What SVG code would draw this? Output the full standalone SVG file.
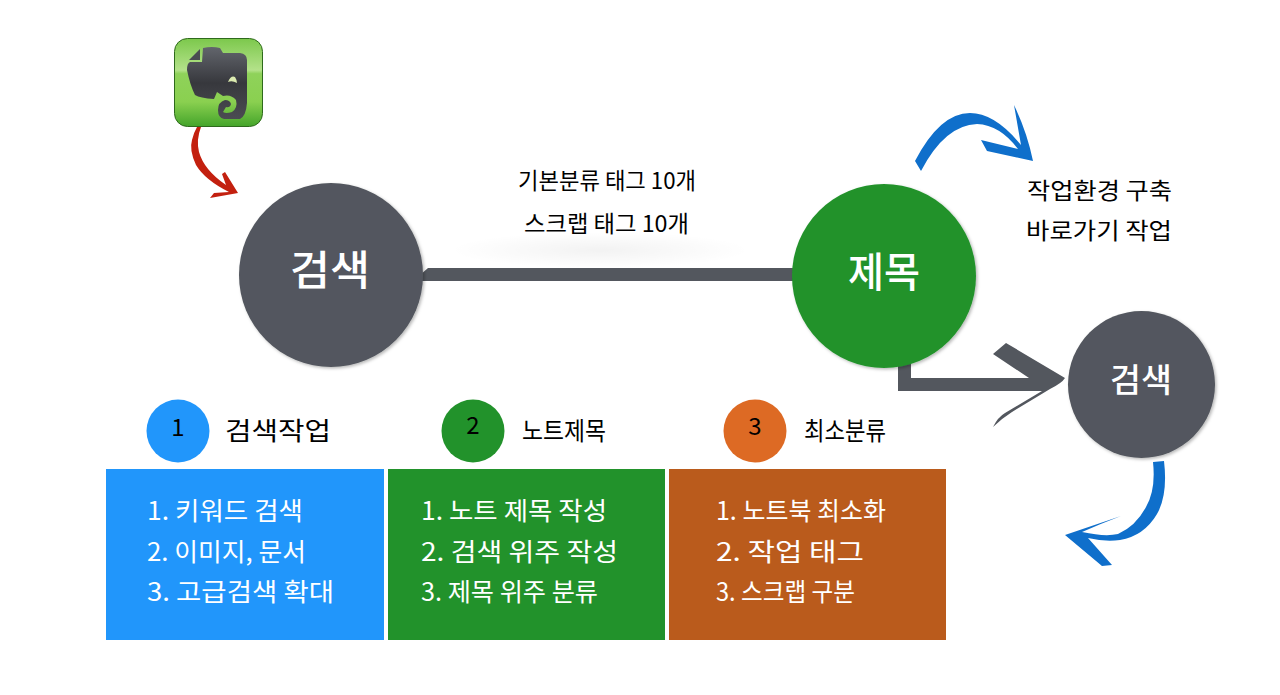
<svg xmlns="http://www.w3.org/2000/svg" width="1280" height="695" viewBox="0 0 1280 695">
<style>
text{font-family:"Noto Sans CJK KR","Noto Sans",sans-serif;font-weight:400;text-anchor:start}
.k{fill:#000}
.w{fill:#fff}
.big{font-weight:500}
.num{font-size:24px;text-anchor:middle}
.head{font-size:25px}
.li{font-size:25px}
.cap{font-size:23px}
.grey{fill:#53575e}
.blue{fill:#0f6fcb}
.red{fill:#c3200f}
</style>
<defs>
<filter id="sh" x="-10%" y="-10%" width="125%" height="125%"><feDropShadow dx="1.500" dy="1.500" stdDeviation="1.500" flood-color="#000" flood-opacity=".28"/></filter>
<linearGradient id="ic" x1="0" y1="0" x2="0" y2="1"><stop offset="0" stop-color="#7cc84c"/><stop offset=".36" stop-color="#b4e28a"/><stop offset=".4" stop-color="#8fd25a"/><stop offset=".72" stop-color="#8ad050"/><stop offset="1" stop-color="#44a42a"/></linearGradient>
<linearGradient id="el" x1="0" y1="0" x2="0" y2="1"><stop offset="0" stop-color="#62656c"/><stop offset=".5" stop-color="#37383d"/><stop offset="1" stop-color="#4b4c52"/></linearGradient>
<radialGradient id="gl"><stop offset="0" stop-color="#000" stop-opacity=".05"/><stop offset="1" stop-color="#000" stop-opacity="0"/></radialGradient>
</defs>

<ellipse cx="600" cy="250" rx="150" ry="18" fill="url(#gl)"/>

<g id="connectors">
<path class="grey" d="M420 275 L428 268 H800 V281 H420 Z"/>
<path class="grey" d="M898 360 H911 V378 H1029 L993 354 L1006 343 L1065 378 Q1062 383 1050 389 L1012 412 Q1001 419 993 427 Q998 417 1005 413 L1042 391 H898 Z"/>
<path class="blue" d="M915 161 Q940 113 970 113 Q995 113 1021 145 L1014 105 Q1027 132 1033 161 L987 151 L981 140 L1018 149 Q1000 125 977 124 Q945 125 921 171 Z"/>
<path class="blue" d="M1153 462 L1164 461 Q1168 495 1157 514 Q1144 536 1120 540 Q1105 542 1088 538 L1112 565 L1102 566 L1065 535 L1121 516 Q1100 524 1082 532 Q1105 537 1118 534 Q1136 526 1146 507 Q1156 490 1153 462 Z"/>
<path class="red" d="M197 127 L201 127 Q196 140 199 152 Q204 170 226 185 L222 174 L225 172 L238 193 L210 198 L214 193 L229 192 Q205 180 196 165 Q189 150 192 140 Q194 132 197 127 Z"/>
</g>

<g id="evernote">
<rect x="174.500" y="38.500" width="88" height="88" rx="13" fill="url(#ic)" stroke="#2e6a1c"/>
<path d="M203 48 Q212 46 220 48 L223 53 H240 Q247 54 247 60 V103 Q246 116 240 119 H224 Q218 118 218 110 Q218 102 225 100 Q230 100 231 104 Q230 108 226 107 L223 112 Q226 114 232 112 Q238 108 236 100 Q231 94 223 96 L217 92 L214 99 Q200 98 195 95 Q190 85 187 70 Q187 63 190 62 H202 Z" fill="url(#el)"/>
<path d="M200 49 L189 60 H200 Z" fill="#4a4c52"/>
<path d="M228 82 Q231 75 235 77 Q237 80 237 83 Q232 80 228 82 Z" fill="#dcebb0"/>
</g>

<g id="node-search"><circle cx="331" cy="275" r="92" class="grey" filter="url(#sh)"/><text class="w big" x="290" y="285" font-size="41" textLength="80" lengthAdjust="spacingAndGlyphs">검색</text></g>
<g id="node-title"><circle cx="884" cy="276" r="92" fill="#22922b" filter="url(#sh)"/><text class="w big" x="848" y="287" font-size="41" textLength="72" lengthAdjust="spacingAndGlyphs">제목</text></g>
<g id="node-search2"><circle cx="1141.500" cy="384.500" r="73.500" class="grey" filter="url(#sh)"/><text class="w big" x="1110" y="392" font-size="33" textLength="62" lengthAdjust="spacingAndGlyphs">검색</text></g>

<g id="label-tags">
<text class="k cap" x="518" y="189" textLength="178" lengthAdjust="spacingAndGlyphs">기본분류 태그 10개</text>
<text class="k cap" x="524" y="232" textLength="165" lengthAdjust="spacingAndGlyphs">스크랩 태그 10개</text>
</g>
<g id="label-env">
<text class="k cap" x="1027" y="199" textLength="145" lengthAdjust="spacingAndGlyphs">작업환경 구축</text>
<text class="k cap" x="1026" y="239" textLength="146" lengthAdjust="spacingAndGlyphs">바로가기 작업</text>
</g>

<g id="step-1">
<circle cx="178" cy="431" r="31.500" fill="#2196fb"/><text class="k num" x="178" y="436">1</text>
<text class="k head" x="225" y="440" textLength="106" lengthAdjust="spacingAndGlyphs">검색작업</text>
<rect x="106" y="469" width="278" height="171" fill="#2196fb"/>
<text class="w li" x="147" y="520" textLength="156" lengthAdjust="spacingAndGlyphs">1. 키워드 검색</text>
<text class="w li" x="147" y="561" textLength="159" lengthAdjust="spacingAndGlyphs">2. 이미지, 문서</text>
<text class="w li" x="147" y="601" textLength="187" lengthAdjust="spacingAndGlyphs">3. 고급검색 확대</text>
</g>
<g id="step-2">
<circle cx="473" cy="431" r="31.500" fill="#22922b"/><text class="k num" x="473" y="434">2</text>
<text class="k head" x="522" y="440" textLength="84" lengthAdjust="spacingAndGlyphs">노트제목</text>
<rect x="388" y="469" width="277" height="171" fill="#22922b"/>
<text class="w li" x="421" y="520" textLength="186" lengthAdjust="spacingAndGlyphs">1. 노트 제목 작성</text>
<text class="w li" x="421" y="561" textLength="197" lengthAdjust="spacingAndGlyphs">2. 검색 위주 작성</text>
<text class="w li" x="421" y="601" textLength="177" lengthAdjust="spacingAndGlyphs">3. 제목 위주 분류</text>
</g>
<g id="step-3">
<circle cx="755" cy="431" r="31.500" fill="#dd6a24"/><text class="k num" x="755" y="435">3</text>
<text class="k head" x="804" y="440" textLength="82" lengthAdjust="spacingAndGlyphs">최소분류</text>
<rect x="669" y="469" width="277" height="171" fill="#ba5b1c"/>
<text class="w li" x="716" y="520" textLength="170" lengthAdjust="spacingAndGlyphs">1. 노트북 최소화</text>
<text class="w li" x="716" y="561" textLength="148" lengthAdjust="spacingAndGlyphs">2. 작업 태그</text>
<text class="w li" x="716" y="601" textLength="139" lengthAdjust="spacingAndGlyphs">3. 스크랩 구분</text>
</g>
</svg>
